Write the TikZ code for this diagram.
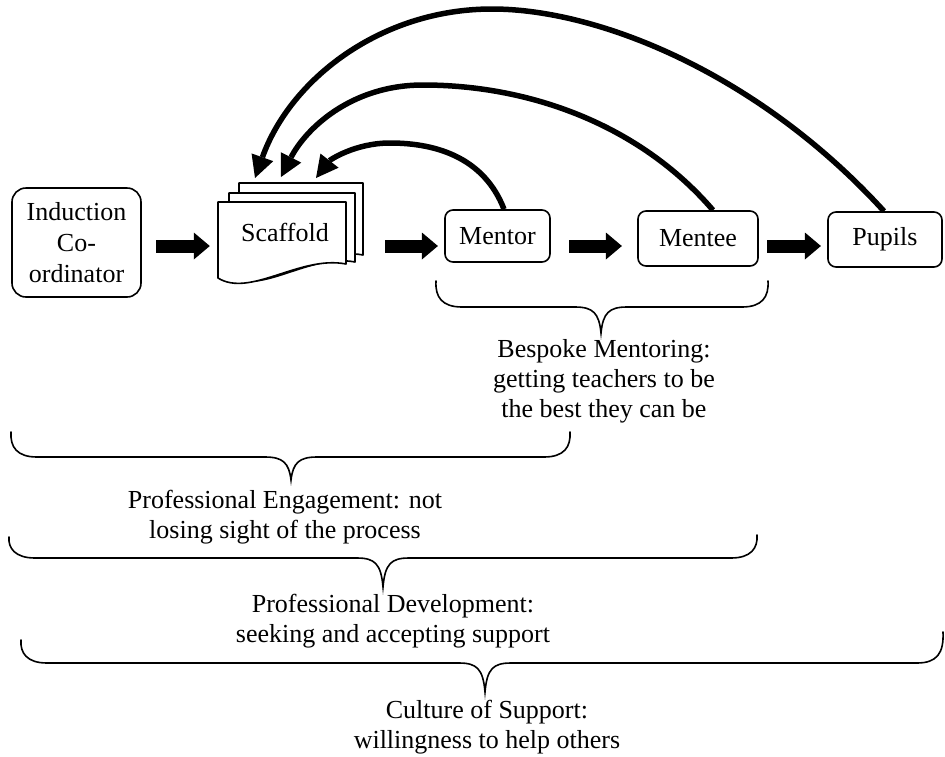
\documentclass[tikz,border=0pt]{standalone}
\usepackage{fontspec}
\setmainfont{Liberation Serif}
\usetikzlibrary{arrows.meta}
\newcommand{\mybrace}[7]{%
  \draw[brace] (#1,#2) .. controls (#1-1,#5-10) and (#1+6,#5) .. (#1+26,#5)
    -- (#6-26,#5) .. controls (#6-8,#5) and (#6-2,#5+6) .. (#6,#7)
    .. controls (#6+2,#5+6) and (#6+8,#5) .. (#6+26,#5)
    -- (#3-26,#5) .. controls (#3-6,#5) and (#3+1,#5-10) .. (#3,#4);}
\begin{document}
\begin{tikzpicture}[x=1pt,y=-1pt,
  every node/.style={font=\fontsize{26}{30}\selectfont, inner sep=0pt},
  rbox/.style={draw, line width=1.6pt, rounded corners=8pt, align=center},
  page/.style={draw, fill=white, line width=1.6pt, line join=round},
  blockarrow/.style={line width=13pt, -{Triangle[length=16pt,width=27pt,line width=0pt]}},
  backarrow/.style={line width=5.5pt, -{Triangle[length=22pt,width=23pt,line width=0pt]}},
  brace/.style={line width=1.6pt, line cap=round},
  lbl/.style={align=center}]
\useasboundingbox (0,0) rectangle (945,756);

% boxes
\node[rbox, rounded corners=14pt, minimum width=129pt, minimum height=109pt] (ind) at (76.5,242.5) {Induction\\[1pt]Co-\\[1pt]ordinator};

% scaffold pages
\draw[page] (239,183) -- (363,183) -- (363,255) .. controls (317,246) and (271,289) .. (239,269) -- cycle;
\draw[page] (229,193) -- (355,193) -- (355,262) .. controls (309,253) and (261,296) .. (229,276) -- cycle;
\draw[page] (218,202) -- (346,202) -- (346,264) .. controls (300,255) and (250,298) .. (218,278) -- cycle;
\node[minimum width=128pt, minimum height=76pt] (scaf) at (282,240) {};
\node (scaftxt) at (285,232) {Scaffold};

\node[rbox, minimum width=105pt, minimum height=52pt] (mentor) at (497.5,236) {Mentor};
\node[rbox, minimum width=120pt, minimum height=55pt] (mentee) at (698,238.5) {Mentee};
\node[rbox, minimum width=114pt, minimum height=55pt] (pupils) at (885,239.5) {Pupils};

% block arrows
\coordinate (row) at (0,246);
\draw[blockarrow, shorten <=14.3pt, shorten >=8pt] (ind.east |- row) -- (scaf.west |- row);
\draw[blockarrow, shorten <=39pt, shorten >=6.3pt] (scaf.east |- row) -- (mentor.west |- row);
\draw[blockarrow, shorten <=18.3pt, shorten >=15.3pt] (mentor.east |- row) -- (mentee.west |- row);
\draw[blockarrow, shorten <=8.3pt, shorten >=6.3pt] (mentee.east |- row) -- (pupils.west |- row);

% feedback arrows
\coordinate (tipA) at (255,178);
\coordinate (tipB) at (281,177);
\coordinate (tipC) at (316,178);
\draw[backarrow] ([xshift=6.5pt]mentor.north) .. controls (485,160) and (440,143) .. (390,143)
   .. controls (355,143) and (330,160) .. (tipC);
\draw[backarrow] ([xshift=15pt]mentee.north) .. controls (640,125) and (530,85) .. (423,85)
   .. controls (350,85) and (305,130) .. (tipB);
\draw[backarrow] ([xshift=-1pt]pupils.north) .. controls (760,75) and (600,9) .. (492,9)
   .. controls (380,9) and (290,80) .. (tipA);

% braces
\mybrace{436}{281}{768}{281}{307}{601}{333}
\mybrace{11}{432}{570}{432}{457}{291}{480}
\mybrace{9}{537}{757}{535}{558}{383}{587}
\mybrace{21}{640}{943}{632}{663}{485}{692}

% labels
\node[lbl] (bespoke) at (604,381) {Bespoke Mentoring:\\getting teachers to be\\the best they can be};
\node[lbl] (engage) at (285,517) {Professional Engagement: not\\losing sight of the process};
\node[lbl] (develop) at (393,621) {Professional Development:\\seeking and accepting support};
\node[lbl] (culture) at (487,727) {Culture of Support:\\willingness to help others};
\end{tikzpicture}
\end{document}
